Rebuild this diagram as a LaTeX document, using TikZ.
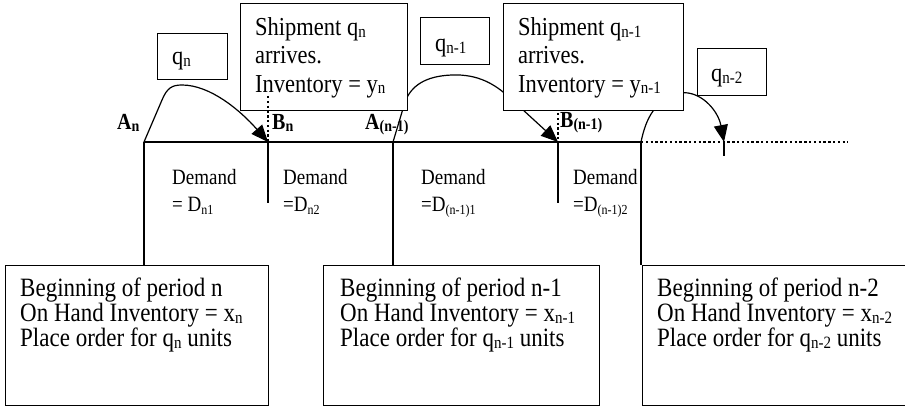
\documentclass[tikz,border=0pt]{standalone}
\usepackage{graphicx}
\usepackage{fontspec}
\setmainfont{Liberation Serif}
\usetikzlibrary{arrows.meta}
\newcommand\vs[1]{\scalebox{1}[1.15]{#1}}
\newcommand\sbt[1]{\raisebox{-1.5pt}{\fontsize{15}{15}\selectfont #1}}
\newcommand\sbd[1]{\raisebox{-2.5pt}{\fontsize{12}{12}\selectfont #1}}
\newcommand\sbb[1]{\raisebox{-1.5pt}{\fontsize{14}{14}\selectfont\bfseries #1}}
\newcommand\threeln[3]{\vtop{\hbox{\vs{#1}}\hbox{\vs{#2}}\hbox{\vs{#3}}}}
\newcommand\twoln[2]{\vtop{\hbox{\vs{#1}}\hbox{\vs{#2}}}}
\begin{document}
\begin{tikzpicture}[x=1pt,y=-1pt,
  box/.style={draw, fill=white, line width=1.1pt, inner sep=0pt, anchor=north west},
  txt/.style={inner sep=0pt, anchor=base west, font=\fontsize{23}{25}\selectfont},
  ttxt/.style={inner sep=0pt, anchor=base west, font=\fontsize{22.5}{28.3}\selectfont},
  dtxt/.style={inner sep=0pt, anchor=base west, font=\fontsize{19}{27}\selectfont},
  lbl/.style={inner sep=0pt, anchor=base west, font=\fontsize{20}{20}\selectfont\bfseries},
  ln/.style={line width=1.1pt},
  dots/.style={line width=2.4pt, dash pattern=on 2.4pt off 2.4pt},
  arr/.style={line width=1.2pt, -{Triangle[length=17pt,width=14pt]}}
]
\useasboundingbox (0,0) rectangle (905,411);

% timeline points
\coordinate (An) at (144,142);
\coordinate (Bn) at (268,142);
\coordinate (An1) at (393,142);
\coordinate (Bn1) at (558,142);
\coordinate (An2) at (641,142);
\coordinate (Tk) at (724,142);
\coordinate (Tend) at (848,142);
\coordinate (Bnlow) at (268,203);
\coordinate (Bn1low) at (558,203);
\coordinate (Tklow) at (724,156);
\coordinate (Bntop) at (268,96);
\coordinate (Bn1top) at (558,113);

% bottom boxes
\node[box, minimum width=263pt, minimum height=140pt] (bot1) at (5,265) {};
\node[box, minimum width=276pt, minimum height=140pt] (bot2) at (323,265) {};
\node[box, minimum width=270pt, minimum height=140pt] (bot3) at (642,265) {};

% timeline
\draw[ln] (An) -- (Bn) -- (An1) -- (Bn1) -- (An2);
\draw[dots] (An2) -- (Tend);
\draw[ln] (An) -- (An |- bot1.north);
\draw[ln] (Bn) -- (Bnlow);
\draw[ln] (An1) -- (An1 |- bot2.north);
\draw[ln] (Bn1) -- (Bn1low);
\draw[ln] (An2) -- (An2 |- bot3.north);
\draw[ln] (Tk) -- (Tklow);

% curved arrows
\draw[arr] (An) -- (162,100) .. controls (167,88) and (172,85) .. (182,85)
  .. controls (210,85) and (240,110) .. (Bn);
\draw[arr] (An1) -- (405,102) .. controls (411,86) and (425,76) .. (452,75)
  .. controls (478,74) and (495,84) .. (510,98) -- (Bn1);
\draw[arr] (An2) .. controls (646,118) and (655,100) .. (680,93)
  .. controls (700,90) and (718,110) .. (Tk);

% top boxes
\node[box, minimum width=70pt, minimum height=46pt] (qn) at (157,33) {};
\node[box, minimum width=167pt, minimum height=107pt] (shn) at (240,3) {};
\node[box, minimum width=69pt, minimum height=47pt] (qn1) at (420,17) {};
\node[box, minimum width=180pt, minimum height=107pt] (shn1) at (503,3) {};
\node[box, minimum width=69pt, minimum height=47pt] (qn2) at (697,48) {};

% dotted markers
\draw[dots] (Bntop) -- (Bn);
\draw[dots] (Bn1top) -- (Bn1);

% texts
\node[txt] (bot1t) at (20,297) {\threeln{Beginning of period n}{On Hand Inventory = x\sbt{n}}{Place order for q\sbt{n} units}};
\node[txt] (bot2t) at (340,297) {\threeln{Beginning of period n-1}{On Hand Inventory = x\sbt{n-1}}{Place order for q\sbt{n-1} units}};
\node[txt] (bot3t) at (657,297) {\threeln{Beginning of period n-2}{On Hand Inventory = x\sbt{n-2}}{Place order for q\sbt{n-2} units}};

\node[ttxt] (shnt) at (255,35.5) {\threeln{Shipment q\sbt{n}}{arrives.}{Inventory = y\sbt{n}}};
\node[ttxt] (shn1t) at (518,35.5) {\threeln{Shipment q\sbt{n-1}}{arrives.}{Inventory = y\sbt{n-1}}};

\node[ttxt] (qnt) at (172,65) {\vs{q\sbt{n}}};
\node[ttxt] (qn1t) at (435,52) {\vs{q\sbt{n-1}}};
\node[ttxt] (qn2t) at (711,82) {\vs{q\sbt{n-2}}};

\node[dtxt] (d1) at (172,185) {\twoln{Demand}{= D\sbd{n1}}};
\node[dtxt] (d2) at (283,185) {\twoln{Demand}{=D\sbd{n2}}};
\node[dtxt] (d3) at (421,185) {\twoln{Demand}{=D\sbd{(n-1)1}}};
\node[dtxt] (d4) at (573,185) {\twoln{Demand}{=D\sbd{(n-1)2}}};

\node[lbl] (lAn) at (117,130) {\vs{A\sbb{n}}};
\node[lbl] (lBn) at (272,130) {\vs{B\sbb{n}}};
\node[lbl] (lAn1) at (365,130) {\vs{A\sbb{(n-1)}}};
\node[lbl] (lBn1) at (560,128) {\vs{B\sbb{(n-1)}}};
\end{tikzpicture}
\end{document}
